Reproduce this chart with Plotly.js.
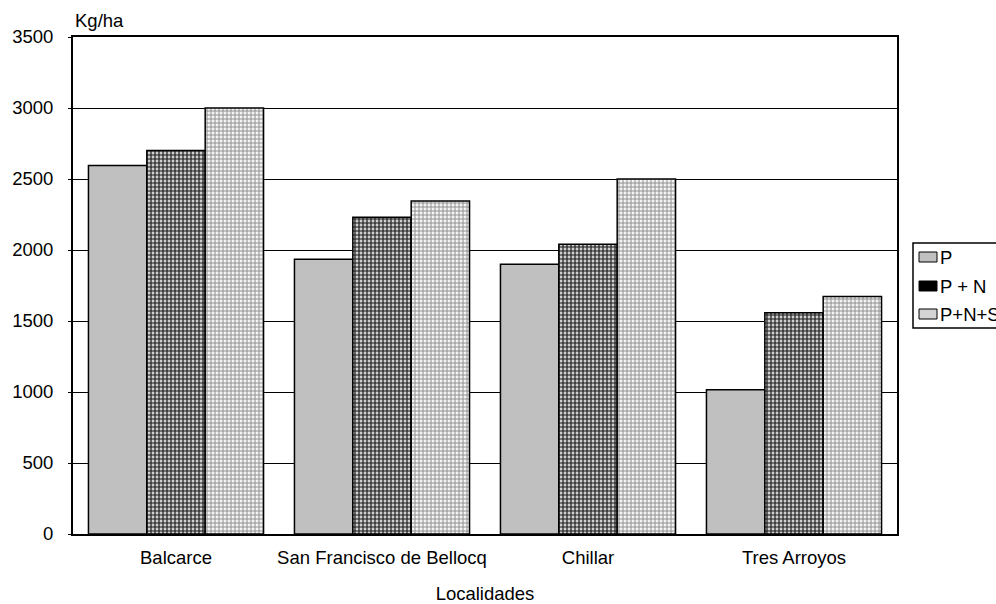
<!DOCTYPE html>
<html>
<head>
<meta charset="utf-8">
<script src="https://cdn.plot.ly/plotly-3.0.1.min.js"></script>
<style>
  html, body { margin: 0; padding: 0; background: #fff; }
  #chart { width: 996px; height: 604px; }
</style>
</head>
<body>
<div id="chart"></div>
<script>
// Rendimiento por localidad y tratamiento (kg/ha)
const localidades = ['Balcarce', 'San Francisco de Bellocq', 'Chillar', 'Tres Arroyos'];
const rendP = [2595, 1935, 1900, 1015];
const rendPN = [2700, 2230, 2040, 1558];
const rendPNS = [3000, 2345, 2500, 1672];
const yTicks = [0, 500, 1000, 1500, 2000, 2500, 3000, 3500];
const serieNombres = ['P', 'P + N', 'P+N+S'];

const FONT = { family: 'Liberation Sans, Arial, sans-serif', size: 18.5, color: '#000' };
const edge = { color: '#000', width: 1.5 };

const traces = [
  {
    type: 'bar', name: serieNombres[0], x: localidades, y: rendP,
    marker: { color: '#c0c0c0', line: edge }
  },
  {
    type: 'bar', name: serieNombres[1], x: localidades, y: rendPN,
    marker: {
      color: '#bdbdbd', line: edge,
      pattern: { shape: '+', size: 4, solidity: 0.5, fgcolor: '#1a1a1a', bgcolor: '#cfcfcf', fillmode: 'replace' }
    }
  },
  {
    type: 'bar', name: serieNombres[2], x: localidades, y: rendPNS,
    marker: {
      color: '#ffffff', line: edge,
      pattern: { shape: '+', size: 4, solidity: 0.4, fgcolor: '#888888', bgcolor: '#f4f4f4', fillmode: 'replace' }
    }
  }
];

// Leyenda dibujada a mano: caja, muestras y textos en coordenadas de papel
const W = 824, H = 497, L = 73, B = 534;
const px = v => (v - L) / W;
const py = v => (B - v) / H;
const legendRows = [257, 286, 314];
const swatchFill = ['#c0c0c0', '#000000', '#d4d4d4'];

const shapes = [
  { type: 'rect', xref: 'paper', yref: 'paper', x0: px(913), x1: px(1012), y0: py(328), y1: py(243),
    line: { color: '#000', width: 1.5 }, fillcolor: '#fff' }
];
const annotations = [
  { xref: 'paper', yref: 'paper', x: 0, y: py(20), xanchor: 'left', yanchor: 'middle',
    text: 'Kg/ha', showarrow: false, font: FONT }
];
legendRows.forEach((yc, i) => {
  shapes.push({ type: 'rect', xref: 'paper', yref: 'paper', x0: px(919), x1: px(937), y0: py(yc + 5), y1: py(yc - 5),
    line: { color: '#000', width: 1 }, fillcolor: swatchFill[i] });
  annotations.push({ xref: 'paper', yref: 'paper', x: px(938), y: py(yc), xanchor: 'left', yanchor: 'middle',
    text: serieNombres[i], showarrow: false, font: FONT });
});

const layout = {
  width: 996, height: 604,
  margin: { l: 73, r: 99, t: 37, b: 70, pad: 0 },
  paper_bgcolor: '#fff', plot_bgcolor: '#fff',
  font: FONT,
  showlegend: false,
  barmode: 'group', bargap: 0.15, bargroupgap: 0,
  xaxis: {
    type: 'category', showline: true, mirror: true, linecolor: '#000', linewidth: 2,
    ticks: '', showgrid: false, ticklabelstandoff: 6,
    tickfont: FONT, automargin: false,
    title: { text: 'Localidades', font: FONT, standoff: 24 }
  },
  yaxis: {
    range: [0, 3500], tickvals: yTicks, ticktext: yTicks.map(String),
    showline: true, mirror: true, linecolor: '#000', linewidth: 2,
    showgrid: true, gridcolor: '#000', gridwidth: 1,
    ticks: 'outside', ticklen: 3, tickcolor: '#000', ticklabelstandoff: 11,
    tickfont: FONT, automargin: false, zeroline: false
  },
  shapes: shapes,
  annotations: annotations
};

Plotly.newPlot('chart', traces, layout, { staticPlot: true, displayModeBar: false });
</script>
</body>
</html>
